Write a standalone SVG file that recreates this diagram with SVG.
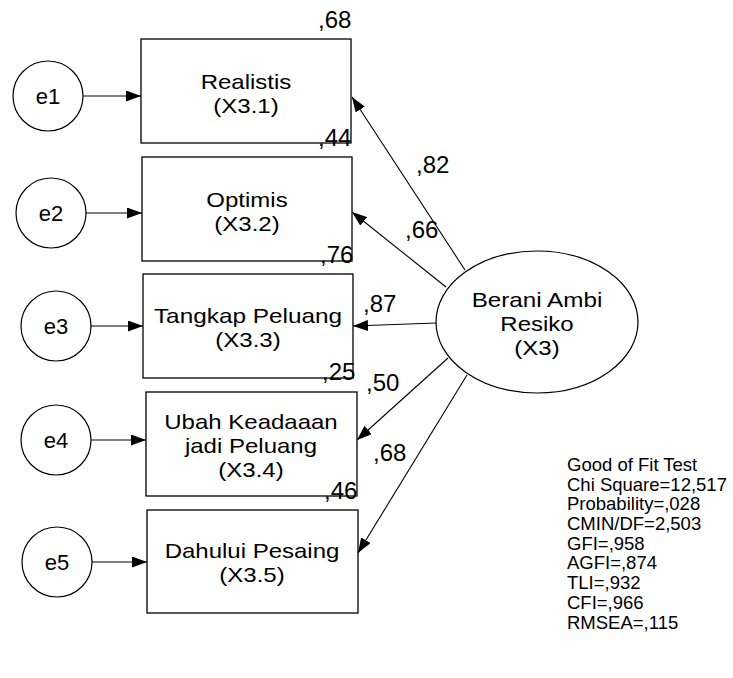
<svg xmlns="http://www.w3.org/2000/svg" width="733" height="678" viewBox="0 0 733 678">
<defs>
<marker id="ah" viewBox="0 0 15 11" markerWidth="15" markerHeight="11" refX="15" refY="5.5" orient="auto" markerUnits="userSpaceOnUse"><path d="M0,0 L15,5.5 L0,11 z" fill="#000"/></marker>
</defs>
<style>
text{font-family:"Liberation Sans",Arial,sans-serif;fill:#000}
.box{fill:none;stroke:#000;stroke-width:1.3}
.circ{fill:none;stroke:#000;stroke-width:1.2}
.c{stroke:#000;stroke-width:1.1;fill:none;marker-end:url(#ah)}
.bt{font-size:21px;text-anchor:middle}
.et{font-size:22px;text-anchor:middle}
.lb{font-size:24px}
.ft{font-size:18.5px}
</style>
<rect width="733" height="678" fill="#fff"/>
<g id="connectors">
<line class="c" x1="83" y1="96" x2="141" y2="96"/>
<line class="c" x1="86" y1="213" x2="142" y2="213"/>
<line class="c" x1="91" y1="326" x2="143" y2="326"/>
<line class="c" x1="91" y1="440" x2="146" y2="440"/>
<line class="c" x1="92" y1="562" x2="147" y2="562"/>
<line class="c" x1="465" y1="270" x2="352" y2="97"/>
<line class="c" x1="446" y1="287" x2="352" y2="212"/>
<line class="c" x1="436" y1="323" x2="353" y2="326"/>
<line class="c" x1="448" y1="358" x2="357" y2="440"/>
<line class="c" x1="467" y1="375" x2="358" y2="553"/>
<text class="lb" x="416" y="173">,82</text>
<text class="lb" x="405" y="238">,66</text>
<text class="lb" x="363" y="312">,87</text>
<text class="lb" x="366" y="391">,50</text>
<text class="lb" x="373" y="461">,68</text>
</g>
<g id="e1"><circle class="circ" cx="48" cy="96" r="35"/><text class="et" x="48" y="104">e1</text></g>
<g id="e2"><circle class="circ" cx="51" cy="213" r="35"/><text class="et" x="51" y="221">e2</text></g>
<g id="e3"><circle class="circ" cx="56" cy="326" r="35"/><text class="et" x="56" y="334">e3</text></g>
<g id="e4"><circle class="circ" cx="56" cy="440" r="35"/><text class="et" x="56" y="448">e4</text></g>
<g id="e5"><circle class="circ" cx="57" cy="562" r="35"/><text class="et" x="57" y="570">e5</text></g>
<g id="x31"><rect class="box" x="141" y="39" width="210" height="104"/><text class="bt" x="246" y="89" textLength="90.7" lengthAdjust="spacingAndGlyphs">Realistis</text><text class="bt" x="246" y="113" textLength="65.4" lengthAdjust="spacingAndGlyphs">(X3.1)</text><text class="lb" x="318" y="28">,68</text></g>
<g id="x32"><rect class="box" x="142" y="157" width="210" height="104"/><text class="bt" x="247" y="207" textLength="81.3" lengthAdjust="spacingAndGlyphs">Optimis</text><text class="bt" x="247" y="231" textLength="65.4" lengthAdjust="spacingAndGlyphs">(X3.2)</text><text class="lb" x="318" y="146">,44</text></g>
<g id="x33"><rect class="box" x="143" y="274" width="210" height="104"/><text class="bt" x="248" y="323" textLength="188.1" lengthAdjust="spacingAndGlyphs">Tangkap Peluang</text><text class="bt" x="248" y="347" textLength="65.4" lengthAdjust="spacingAndGlyphs">(X3.3)</text><text class="lb" x="320" y="263">,76</text></g>
<g id="x34"><rect class="box" x="146" y="392" width="211" height="104"/><text class="bt" x="251" y="429" textLength="173.4" lengthAdjust="spacingAndGlyphs">Ubah Keadaaan</text><text class="bt" x="251" y="453" textLength="132.1" lengthAdjust="spacingAndGlyphs">jadi Peluang</text><text class="bt" x="251" y="477" textLength="65.4" lengthAdjust="spacingAndGlyphs">(X3.4)</text><text class="lb" x="322" y="380">,25</text></g>
<g id="x35"><rect class="box" x="147" y="510" width="211" height="103"/><text class="bt" x="252" y="558" textLength="174.7" lengthAdjust="spacingAndGlyphs">Dahului Pesaing</text><text class="bt" x="252" y="582" textLength="65.4" lengthAdjust="spacingAndGlyphs">(X3.5)</text><text class="lb" x="324" y="499">,46</text></g>
<g id="x3"><ellipse class="circ" cx="537" cy="322" rx="101" ry="71"/><text class="bt" x="537" y="307" textLength="130.7" lengthAdjust="spacingAndGlyphs">Berani Ambi</text><text class="bt" x="537" y="331" textLength="73.3" lengthAdjust="spacingAndGlyphs">Resiko</text><text class="bt" x="537" y="355" textLength="45.3" lengthAdjust="spacingAndGlyphs">(X3)</text></g>
<g id="fit">
<text class="ft" x="567" y="471">Good of Fit Test</text>
<text class="ft" x="567" y="491">Chi Square=12,517</text>
<text class="ft" x="567" y="510">Probability=,028</text>
<text class="ft" x="567" y="530">CMIN/DF=2,503</text>
<text class="ft" x="567" y="550">GFI=,958</text>
<text class="ft" x="567" y="569">AGFI=,874</text>
<text class="ft" x="567" y="589">TLI=,932</text>
<text class="ft" x="567" y="609">CFI=,966</text>
<text class="ft" x="567" y="629">RMSEA=,115</text>
</g>
</svg>
